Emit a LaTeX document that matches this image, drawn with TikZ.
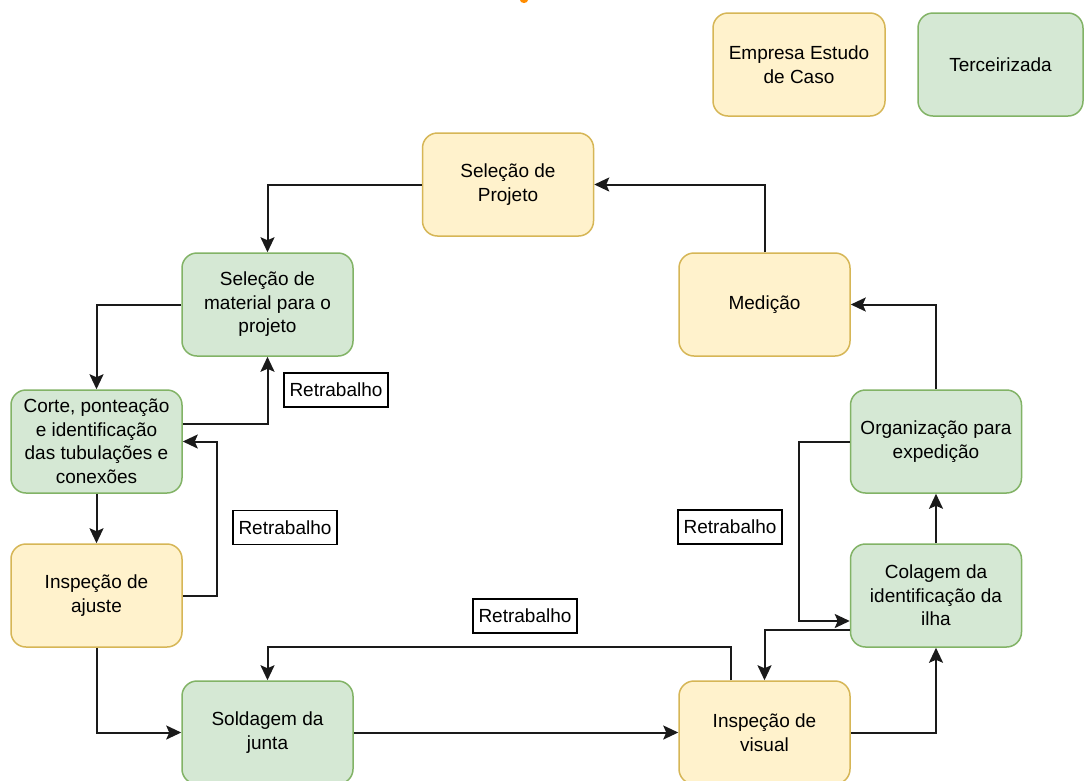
\documentclass[tikz,border=0pt]{standalone}
\usepackage{fontspec}
\setmainfont{Liberation Sans}
\usetikzlibrary{arrows.meta}
\definecolor{yfill}{HTML}{FFF2CC}
\definecolor{ydraw}{HTML}{D6B656}
\definecolor{gfill}{HTML}{D5E8D4}
\definecolor{gdraw}{HTML}{82B366}
\definecolor{lineC}{HTML}{1A1A1A}
\begin{document}
\begin{tikzpicture}[x=1pt,y=-1pt,
  box/.style={rectangle, rounded corners=15pt, minimum width=171pt, minimum height=103pt,
    line width=1.5pt, align=center, inner sep=2pt,
    font=\fontsize{19}{23.5}\selectfont},
  ybox/.style={box, fill=yfill, draw=ydraw},
  gbox/.style={box, fill=gfill, draw=gdraw},
  arr/.style={draw=lineC, line width=2pt, -{Stealth[length=15pt,width=14pt,inset=3pt]}},
  rework/.style={draw=black, line width=1.7pt, fill=white, minimum width=104pt, minimum height=34pt,
    inner sep=2pt, font=\fontsize{19}{23}\selectfont}]
\clip (0,0) rectangle (1084,780);
\fill[white] (0,0) rectangle (1084,780);
% small orange mark at top edge
\fill[orange!90!yellow] (524,0) ellipse (4pt and 3pt);

% legend
\node[ybox, minimum width=172pt] (leg1) at (799,64.5) {Empresa Estudo\\de Caso};
\node[gbox, minimum width=165pt] (leg2) at (1000.5,64.5) {Terceirizada};

% process nodes
\node[ybox] (proj) at (508,184.5) {Seleção de\\Projeto};
\node[gbox] (mat) at (267.5,304.5) {Seleção de\\material para o\\projeto};
\node[ybox] (med) at (764.5,304.5) {Medição};
\node[gbox] (corte) at (96.5,441.5) {Corte, ponteação\\e identificação\\das tubulações e\\conexões};
\node[gbox] (org) at (936,441.5) {Organização para\\expedição};
\node[ybox] (ajuste) at (96.5,595.5) {Inspeção de\\ajuste};
\node[gbox] (col) at (936,595.5) {Colagem da\\identificação da\\ilha};
\node[gbox] (sold) at (267.5,732.5) {Soldagem da\\junta};
\node[ybox] (vis) at (764.5,732.5) {Inspeção de\\visual};

% connectors
\draw[arr] (proj.west) -| (mat.north);
\draw[arr] (med.north) |- (proj.east);
\draw[arr] (mat.west) -| (corte.north);
\draw[arr] (corte.east |- 0,424) -| (mat.south);
\draw[arr] (corte.south) -- (ajuste.north);
\draw[arr] (ajuste.east) -| (217,441.5) -- (corte.east);
\draw[arr] (ajuste.south) |- (sold.west);
\draw[arr] (sold.east) -- (vis.west);
\draw[arr] (vis.north -| 731,0) |- (0,647 -| sold.north) -- (sold.north);
\draw[arr] (vis.east) -| (col.south);
\draw[arr] (col.west |- 0,630) -| (vis.north);
\draw[arr] (org.west) -| (799,621) -- (col.west |- 0,621);
\draw[arr] (col.north) -- (org.south);
\draw[arr] (org.north) |- (med.east);

% rework labels
\node[rework] (rw1) at (336,390) {Retrabalho};
\node[rework] (rw2) at (285,527.5) {Retrabalho};
\node[rework] (rw3) at (525,616) {Retrabalho};
\node[rework] (rw4) at (730,527) {Retrabalho};
\end{tikzpicture}
\end{document}
